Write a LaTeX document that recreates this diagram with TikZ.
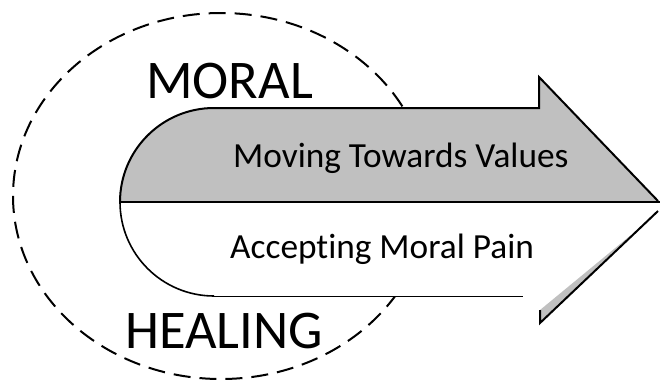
\documentclass[tikz,border=0pt]{standalone}
\usepackage{fontspec}
\setmainfont{Carlito}[Ligatures=NoCommon]
\definecolor{arrowgrey}{RGB}{192,192,192}
\tikzset{
  outline/.style={draw=black,line width=2pt,line join=miter},
  thinline/.style={draw=black,line width=1pt},
  halo/.style={draw=black,line width=2pt,dash pattern=on 17pt off 9pt},
  bigword/.style={inner sep=0pt,anchor=base west,font=\fontsize{54.5}{60}\selectfont},
  label/.style={inner sep=0pt,anchor=base west,font=\fontsize{35.3}{40}\selectfont}
}
\begin{document}
\begin{tikzpicture}[x=1pt,y=-1pt]
\useasboundingbox (0,0) rectangle (660,380);
% dashed halo
\draw[halo] (221,196) ellipse [x radius=208, y radius=183];
% lower white band (hides the halo)
\fill[white] (120,202) arc[start angle=180,end angle=90,radius=94] -- (530,296) -- (530,202) -- cycle;
% upper grey band with arrow head
\fill[arrowgrey] (120,202) arc[start angle=180,end angle=270,radius=94]
  -- (539,108) -- (539,77) -- (658,201) -- (658,202) -- cycle;
\draw[outline] (120,202) arc[start angle=180,end angle=270,radius=94]
  -- (539,108) -- (539,77) -- (658,201);
% middle line
\draw[outline] (120,202) -- (660,202);
% lower band outline
\draw[line width=1.6pt] (120,202) arc[start angle=180,end angle=90,radius=94];
\draw[thinline] (214,296) -- (523,296);
% lower arrow head sliver
\fill[arrowgrey] (540,310) -- (631,235) -- (540,323) -- cycle;
\draw[outline] (658,211) -- (540,323) -- (540,310);
% texts
\node[bigword] (moral) at (146,98) {MORAL};
\node[bigword] (healing) at (125,348) {HEALING};
\node[label] (values) at (233,167) {Moving Towards Values};
\node[label] (pain) at (230,258) {Accepting Moral Pain};
\end{tikzpicture}
\end{document}
